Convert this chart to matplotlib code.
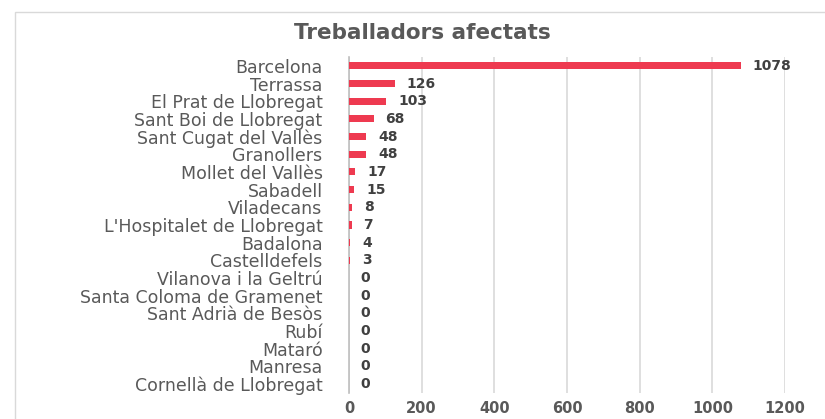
import matplotlib
matplotlib.use("Agg")
import matplotlib.pyplot as plt
from matplotlib.patches import Rectangle

# data, top to bottom as shown in the chart
cities = [
    "Barcelona", "Terrassa", "El Prat de Llobregat", "Sant Boi de Llobregat",
    "Sant Cugat del Vallès", "Granollers", "Mollet del Vallès", "Sabadell",
    "Viladecans", "L'Hospitalet de Llobregat", "Badalona", "Castelldefels",
    "Vilanova i la Geltrú", "Santa Coloma de Gramenet", "Sant Adrià de Besòs",
    "Rubí", "Mataró", "Manresa", "Cornellà de Llobregat",
]
workers = [1078, 126, 103, 68, 48, 48, 17, 15, 8, 7, 4, 3, 0, 0, 0, 0, 0, 0, 0]
x_ticks = [0, 200, 400, 600, 800, 1000, 1200]

BAR = "#EE3A50"
GRID = "#D9D9D9"
TEXT = "#595959"

fig = plt.figure(figsize=(8.25, 4.19), dpi=100)
ax = fig.add_axes([0.423, 0.062, 0.5285, 0.802])

pos = list(range(len(cities)))
ax.barh(pos, workers, height=0.4, color=BAR, zorder=3)
ax.set_ylim(len(cities) - 0.5, -0.5)
ax.set_xlim(0, 1200)
ax.set_xticks(x_ticks)
ax.set_xticklabels([str(t) for t in x_ticks], fontsize=10.5, fontweight="bold", color=TEXT)
ax.set_yticks(pos)
ax.set_yticklabels(cities, fontsize=12.5, color=TEXT)
ax.tick_params(axis="both", length=0)
ax.tick_params(axis="x", pad=6)
ax.tick_params(axis="y", pad=19)

ax.grid(axis="x", color=GRID, lw=1.2, zorder=0)
for side in ["top", "right", "bottom"]:
    ax.spines[side].set_visible(False)
ax.spines["left"].set_color("#BFBFBF")
ax.spines["left"].set_linewidth(1.2)

for p, v in zip(pos, workers):
    ax.annotate(str(v), (v, p), xytext=(8.5, 0), textcoords="offset points",
                va="center", ha="left", fontsize=10, fontweight="bold",
                color="#404040")

fig.text(0.512, 0.922, "Treballadors afectats", ha="center", va="center",
         fontsize=15.5, fontweight="bold", color=TEXT)

# light chart-area frame
fig.patches.append(Rectangle((15 / 825, -0.1), 1.0, 1.1 - 12 / 419,
                             transform=fig.transFigure, fill=False,
                             edgecolor=GRID, lw=1.0))

fig.savefig("out.png", dpi=100)
